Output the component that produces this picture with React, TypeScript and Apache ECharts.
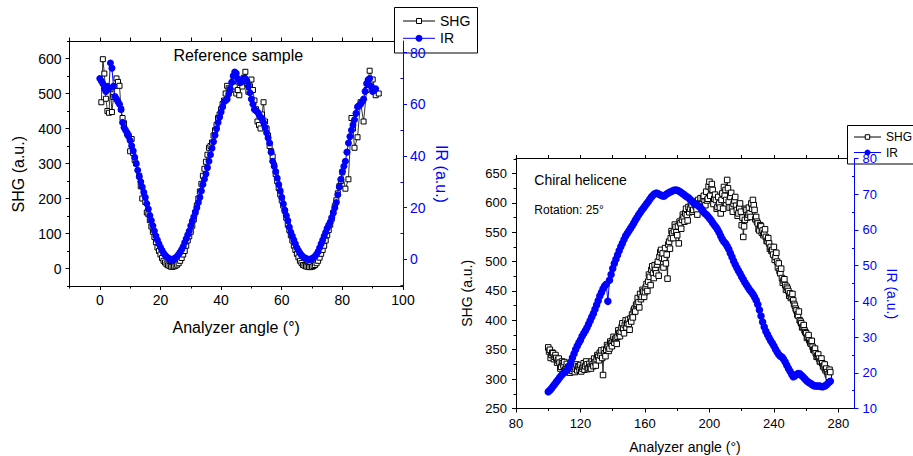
import { useEffect, useRef } from 'react';
import * as echarts from 'echarts';

const BLUE = '#0000ff';
const FONT = '"Liberation Sans", Arial, sans-serif';

// ---- Left chart: Reference sample ----
const leftShgAngles = [0.5, 1, 1.5, 2, 2.5, 3, 3.5, 4, 4.5, 5, 5.5, 6, 6.5, 7, 7.5, 8, 9, 9.5, 10, 10.5, 11, 11.5, 12, 13, 13.5, 14, 15, 15.5, 16, 17, 18, 19, 20, 21, 22, 23, 24, 25, 26, 27, 28, 29, 30, 31, 32, 33, 34, 35, 36, 37, 38, 39, 40, 41, 42, 43, 44, 45, 46, 47, 48, 49, 50, 51, 52, 53, 54, 55, 56, 57, 58, 59, 60, 61, 62, 63, 64, 65, 66, 67, 68, 69, 70, 71, 72, 73, 74, 75, 76, 77, 78, 79, 80, 81, 82, 83, 83.5, 84, 85, 86, 87, 88, 89, 90, 91, 92];
const leftShgValues = [475, 598, 557, 485, 450, 445, 512, 447, 490, 522, 543, 533, 522, 455, 430, 415, 385, 380, 335, 370, 330, 310, 300, 265, 235, 200, 190, 160, 155, 120, 90, 60, 40, 22, 12, 7, 5, 8, 15, 30, 50, 80, 105, 140, 180, 220, 265, 305, 345, 360, 395, 430, 455, 480, 522, 510, 535, 500, 495, 520, 562, 505, 540, 480, 420, 400, 475, 400, 350, 320, 270, 230, 195, 165, 125, 95, 65, 42, 22, 10, 6, 4, 5, 10, 22, 42, 65, 95, 125, 160, 195, 235, 275, 228, 255, 430, 400, 345, 375, 475, 420, 510, 565, 540, 495, 500];
const leftShgHalfAngles = [16.5, 17.5, 18.5, 19.5, 20.5, 21.5, 22.5, 23.5, 24.5, 25.5, 26.5, 27.5, 28.5, 29.5, 30.5, 31.5, 32.5, 33.5, 34.5, 35.5, 36.5, 37.5, 38.5, 39.5, 40.5, 41.5, 42.5, 43.5, 44.5, 45.5, 46.5, 47.5, 48.5, 49.5, 50.5, 51.5, 52.5, 53.5, 54.5, 55.5, 56.5, 57.5, 58.5, 59.5, 60.5, 61.5, 62.5, 63.5, 64.5, 65.5, 66.5, 67.5, 68.5, 69.5, 70.5, 71.5, 72.5, 73.5, 74.5, 75.5, 76.5, 77.5, 78.5, 79.5];
const leftShgHalfValues = [138, 105, 75, 50, 30, 17, 9, 5, 6, 11, 22, 40, 65, 92, 122, 160, 200, 242, 285, 325, 350, 380, 410, 440, 470, 500, 515, 525, 520, 510, 530, 545, 530, 520, 510, 455, 410, 440, 420, 380, 335, 295, 250, 212, 180, 145, 110, 80, 53, 32, 16, 8, 5, 4, 7, 15, 31, 53, 80, 110, 142, 178, 215, 250];
const leftIrAngles = [0, 0.5, 1, 1.5, 2, 2.5, 3, 3.5, 4, 4.5, 5, 5.5, 6, 6.5, 7, 7.5, 8, 9, 10, 11, 12, 13, 14, 15, 16, 17, 18, 19, 20, 21, 22, 23, 24, 25, 26, 27, 28, 29, 30, 31, 32, 33, 34, 35, 36, 37, 38, 39, 40, 41, 42, 43, 44, 44.5, 45, 46, 47, 48, 49, 50, 51, 52, 53, 54, 55, 56, 57, 58, 59, 60, 61, 62, 63, 64, 65, 66, 67, 68, 69, 70, 71, 72, 73, 74, 75, 76, 77, 78, 79, 80, 81, 82, 83, 84, 85, 86, 87, 88, 89, 90, 91];
const leftIrValues = [70, 69, 68, 66, 65, 67, 66, 76, 74, 67, 63, 62, 61, 60, 58, 53, 51, 49, 46, 42, 37, 32, 28, 24, 19.5, 15, 11, 7.5, 4.7, 2.5, 1, 0.2, 0, 0.6, 2, 3.8, 6.5, 9.5, 13, 16.5, 20, 24, 29, 33, 38, 43, 48, 53, 57, 61, 62, 66, 71, 72.5, 72, 69, 69.5, 70, 67, 62, 58, 57, 55, 53, 49, 45, 38, 34, 29, 24, 19, 15, 10.5, 7.5, 4.5, 2.5, 1, 0.3, 0, 0.3, 1.2, 3, 6, 9, 12, 14.5, 18, 22, 28, 34, 38, 45, 50, 54, 59, 60, 62, 68, 70, 65, 66];
const leftIrHalfAngles = [8.5, 9.5, 10.5, 11.5, 12.5, 13.5, 14.5, 15.5, 16.5, 17.5, 18.5, 19.5, 20.5, 21.5, 22.5, 23.5, 24.5, 25.5, 26.5, 27.5, 28.5, 29.5, 30.5, 31.5, 32.5, 33.5, 34.5, 35.5, 36.5, 37.5, 38.5, 39.5, 40.5, 41.5, 42.5, 43.5, 45.5, 46.5, 47.5, 48.5, 49.5, 50.5, 51.5, 52.5, 53.5, 54.5, 55.5, 56.5, 57.5, 58.5, 59.5, 60.5, 61.5, 62.5, 63.5, 64.5, 65.5, 66.5, 67.5, 68.5, 69.5, 70.5, 71.5, 72.5, 73.5, 74.5, 75.5, 76.5, 77.5, 78.5, 79.5, 80.5, 81.5, 82.5, 83.5, 84.5, 85.5, 86.5, 87.5, 88.5, 89.5, 90.5];
const leftIrHalfValues = [50, 47.5, 44, 39.5, 34.5, 30, 26, 21.5, 17, 13, 9, 6, 3.5, 1.7, 0.5, 0, 0.2, 1.2, 2.8, 5, 8, 11, 14.8, 18.3, 22, 26.5, 31, 35.5, 40.5, 45.5, 50.5, 55, 59, 61.5, 64, 68.5, 70, 68.5, 70, 69, 64.5, 60, 57.5, 56, 54.5, 51, 47, 41.5, 36, 31.5, 26.5, 21.5, 17, 12.5, 9, 6, 3.4, 1.7, 0.6, 0.1, 0, 0.7, 2, 4.5, 7.5, 10.5, 13.3, 16.2, 20, 25, 31, 36, 41.5, 47.5, 52, 56.5, 59.5, 61, 65, 69.5, 67, 65.5];

// ---- Right chart: Chiral helicene ----
const rightAngles = [
  100, 101, 102, 103, 104, 105, 106, 107, 108, 109,
  110, 111, 112, 113, 114, 115, 116, 117, 118, 119,
  120, 121, 122, 123, 124, 125, 126, 127, 128, 129,
  130, 131, 132, 133, 134, 135, 136, 137, 138, 139,
  140, 141, 142, 143, 144, 145, 146, 147, 148, 149,
  150, 151, 152, 153, 154, 155, 156, 157, 158, 159,
  160, 161, 162, 163, 164, 165, 166, 167, 168, 169,
  170, 171, 172, 173, 174, 175, 176, 177, 178, 179,
  180, 181, 182, 183, 184, 185, 186, 187, 188, 189,
  190, 191, 192, 193, 194, 195, 196, 197, 198, 199,
  200, 201, 202, 203, 204, 205, 206, 207, 208, 209,
  210, 211, 212, 213, 214, 215, 216, 217, 218, 219,
  220, 221, 222, 223, 224, 225, 226, 227, 228, 229,
  230, 231, 232, 233, 234, 235, 236, 237, 238, 239,
  240, 241, 242, 243, 244, 245, 246, 247, 248, 249,
  250, 251, 252, 253, 254, 255, 256, 257, 258, 259,
  260, 261, 262, 263, 264, 265, 266, 267, 268, 269,
  270, 271, 272, 273, 274, 275,
];
const rightShgValues = [
  354, 350, 341, 344, 338, 336, 332, 328, 321, 327,
  329, 318, 312, 320, 315, 314, 321, 318, 315, 321,
  324, 318, 327, 322, 325, 319, 321, 330, 322, 329,
  334, 338, 345, 349, 307, 344, 350, 355, 352, 361,
  366, 362, 370, 372, 378, 381, 395, 378, 400, 395,
  394, 403, 410, 417, 415, 428, 431, 445, 440, 449,
  448, 462, 466, 474, 486, 480, 494, 480, 500, 508,
  520, 514, 505, 497, 471, 534, 540, 548, 552, 559,
  545, 531, 565, 571, 576, 582, 579, 593, 590, 596,
  588, 598, 588, 605, 600, 598, 607, 602, 619, 607,
  636, 624, 622, 607, 605, 593, 599, 582, 616, 627,
  622, 639, 602, 610, 593, 598, 610, 588, 582, 599,
  562, 542, 571, 588, 580, 582, 599, 605, 588, 576,
  565, 553, 560, 553, 548, 542, 535, 531, 525, 520,
  525, 508, 500, 497, 480, 472, 468, 460, 457, 450,
  446, 440, 434, 425, 417, 408, 400, 395, 389, 383,
  378, 372, 366, 360, 355, 349, 344, 340, 335, 330,
  327, 320, 315, 312, 304, 312,
];
const rightHalfAngles = [
  100.5, 101.5, 102.5, 103.5, 104.5, 105.5, 106.5, 107.5, 108.5, 109.5,
  110.5, 111.5, 112.5, 113.5, 114.5, 115.5, 116.5, 117.5, 118.5, 119.5,
  120.5, 121.5, 122.5, 123.5, 124.5, 125.5, 126.5, 127.5, 128.5, 129.5,
  130.5, 131.5, 132.5, 133.5, 134.5, 135.5, 136.5, 137.5, 138.5, 139.5,
  140.5, 141.5, 142.5, 143.5, 144.5, 145.5, 146.5, 147.5, 148.5, 149.5,
  150.5, 151.5, 152.5, 153.5, 154.5, 155.5, 156.5, 157.5, 158.5, 159.5,
  160.5, 161.5, 162.5, 163.5, 164.5, 165.5, 166.5, 167.5, 168.5, 169.5,
  170.5, 171.5, 172.5, 173.5, 174.5, 175.5, 176.5, 177.5, 178.5, 179.5,
  180.5, 181.5, 182.5, 183.5, 184.5, 185.5, 186.5, 187.5, 188.5, 189.5,
  190.5, 191.5, 192.5, 193.5, 194.5, 195.5, 196.5, 197.5, 198.5, 199.5,
  200.5, 201.5, 202.5, 203.5, 204.5, 205.5, 206.5, 207.5, 208.5, 209.5,
  210.5, 211.5, 212.5, 213.5, 214.5, 215.5, 216.5, 217.5, 218.5, 219.5,
  220.5, 221.5, 222.5, 223.5, 224.5, 225.5, 226.5, 227.5, 228.5, 229.5,
  230.5, 231.5, 232.5, 233.5, 234.5, 235.5, 236.5, 237.5, 238.5, 239.5,
  240.5, 241.5, 242.5, 243.5, 244.5, 245.5, 246.5, 247.5, 248.5, 249.5,
  250.5, 251.5, 252.5, 253.5, 254.5, 255.5, 256.5, 257.5, 258.5, 259.5,
  260.5, 261.5, 262.5, 263.5, 264.5, 265.5, 266.5, 267.5, 268.5, 269.5,
  270.5, 271.5, 272.5, 273.5, 274.5,
];
const rightShgHalfValues = [
  347, 336, 345, 334, 341, 328, 335, 318, 330, 323,
  316, 326, 321, 311, 323, 318, 312, 325, 322, 316,
  313, 321, 316, 330, 317, 326, 318, 325, 335, 323,
  341, 332, 340, 336, 350, 339, 358, 348, 364, 356,
  372, 368, 360, 383, 373, 388, 386, 392, 388, 401,
  384, 398, 405, 420, 426, 438, 422, 436, 452, 440,
  456, 450, 478, 460, 492, 472, 486, 495, 476, 516,
  506, 490, 523, 512, 529, 522, 552, 540, 563, 550,
  560, 568, 556, 580, 568, 590, 570, 584, 600, 585,
  602, 594, 580, 596, 608, 590, 612, 596, 604, 628,
  612, 632, 598, 614, 590, 610, 592, 605, 590, 612,
  605, 625, 592, 617, 585, 604, 595, 578, 592, 585,
  575, 560, 590, 575, 592, 576, 590, 596, 572, 568,
  555, 562, 549, 545, 555, 535, 540, 522, 518, 512,
  503, 515, 490, 484, 488, 464, 470, 452, 454, 442,
  438, 445, 428, 420, 410, 415, 398, 388, 392, 380,
  370, 375, 362, 365, 350, 352, 338, 342, 330, 335,
  322, 325, 318, 308, 316,
];
const rightIrValues = [
  14.7, 15.1, 15.6, 16.2, 16.8, 17.4, 18, 18.6, 19.2, 19.7,
  20.1, 20.5, 21, 21.9, 23, 24.2, 25.3, 26.5, 27.5, 28.4,
  29.2, 30.2, 31, 31.8, 32.6, 33.6, 34.6, 35.6, 36.6, 37.8,
  39, 40.2, 41.5, 42.5, 43.5, 44.3, 44.8, 40, 45.9, 47.5,
  49.2, 50.6, 51.8, 53, 54.2, 55.3, 56.3, 57.3, 58.3, 59,
  59.7, 60.4, 61.1, 61.9, 62.7, 63.4, 64.2, 64.8, 65.5, 66.1,
  66.7, 67.3, 67.9, 68.6, 69.2, 69.7, 70.1, 70.3, 70.2, 69.9,
  69.7, 69.5, 69.5, 69.9, 70.2, 70.5, 70.7, 70.9, 71.1, 71.2,
  71.1, 70.9, 70.6, 70.3, 70, 69.6, 69.3, 69, 68.6, 68.1,
  67.6, 67.3, 67.1, 66.8, 66.4, 65.9, 65.3, 64.7, 64.3, 63.8,
  63.3, 62.7, 62, 61.4, 60.8, 60.1, 59.3, 58.3, 57.4, 56.7,
  56.2, 55.4, 54.6, 53.5, 52.4, 51.3, 50.3, 49.4, 48.6, 47.8,
  46.9, 46.1, 45.3, 44.6, 43.9, 43.2, 42.6, 42, 41.2, 40.3,
  39.1, 37.6, 35.9, 34.2, 32.8, 31.6, 30.7, 29.8, 29, 28.3,
  27.5, 26.6, 25.8, 25.1, 24.6, 24.4, 23.8, 23, 22.1, 21.2,
  20.4, 19.6, 18.9, 19.1, 19.5, 19.8, 19.7, 19.3, 18.9, 18.4,
  17.9, 17.5, 17.2, 16.9, 16.6, 16.4, 16.3, 16.3, 16.3, 16.2,
  16.1, 16.2, 16.4, 16.8, 17.3, 17.6,
];

// ---- Axis ticks / labels ----
const leftXLabels = [0, 20, 40, 60, 80, 100];
const leftXMinor = [-10, 10, 30, 50, 70, 90];
const leftXTop = [-10, 0, 10, 20, 30, 40, 50, 60, 70, 80, 90, 100];
const leftShgLabels = [0, 100, 200, 300, 400, 500, 600];
const leftShgMinor = [-50, 50, 150, 250, 350, 450, 550, 650];
const leftIrLabels = [0, 20, 40, 60, 80];
const leftIrMinor = [-10, 10, 30, 50, 70];
const rightXLabels = [80, 120, 160, 200, 240, 280];
const rightXMinor = [100, 140, 180, 220, 260];
const rightXTop = [80, 100, 120, 140, 160, 180, 200, 220, 240, 260, 280];
const rightShgLabels = [250, 300, 350, 400, 450, 500, 550, 600, 650];
const rightShgMinor = [275, 325, 375, 425, 475, 525, 575, 625, 675];
const rightIrLabels = [10, 20, 30, 40, 50, 60, 70, 80];
const rightIrMinor = [15, 25, 35, 45, 55, 65, 75];

const pairs = (xs: number[], ys: number[]) => xs.map((x, i) => [x, ys[i]]);
const merged = (a: number[][], b: number[][]) => a.concat(b).sort((p, q) => p[0] - q[0]);

function labelledAxis(grid: number, position: string, min: number, max: number, values: number[], color: string, fontSize: number, margin: number, z = 0) {
  return {
    type: 'value', gridIndex: grid, position, min, max, z,
    splitLine: { show: false },
    axisLine: { show: true, onZero: false, lineStyle: { color, width: 1 } },
    axisTick: { show: true, inside: false, length: 4, customValues: values, lineStyle: { color, width: 1 } },
    axisLabel: { show: true, customValues: values, color, fontSize, fontFamily: FONT, margin },
  };
}

function tickAxis(grid: number, position: string, min: number, max: number, values: number[], color: string, length: number, inside: boolean, showLine: boolean, z = 0) {
  return {
    type: 'value', gridIndex: grid, position, min, max, z,
    splitLine: { show: false },
    axisLine: { show: showLine, onZero: false, lineStyle: { color, width: 1 } },
    axisTick: { show: true, inside, length, customValues: values, lineStyle: { color, width: 1 } },
    axisLabel: { show: false },
  };
}

function text(t: string, x: number, y: number, size: number, color = '#000', rotation = 0, align = 'center') {
  return {
    type: 'text', x, y, rotation, z: 10, silent: true,
    style: {
      text: t, fill: color, fontSize: size, fontFamily: FONT,
      align, verticalAlign: 'middle', textAlign: align, textVerticalAlign: 'middle',
    },
  };
}

export default function App() {
  const ref = useRef<HTMLDivElement>(null);
  useEffect(() => {
    if (!ref.current) return;
    const chart = echarts.init(ref.current, undefined, { renderer: 'svg' });
    const legendBase = {
      orient: 'horizontal', padding: 0, itemGap: 0, selectedMode: false, z: 6,
      lineStyle: { width: 1 },
    };
    chart.setOption({
      animation: false,
      backgroundColor: '#fff',
      grid: [
        { left: 69.5, top: 41, width: 333.5, height: 245, containLabel: false, outerBoundsMode: 'none' },
        { left: 516, top: 158.5, width: 338.5, height: 250, containLabel: false, outerBoundsMode: 'none' },
      ],
      xAxis: [
        labelledAxis(0, 'bottom', -10, 100, leftXLabels, '#000', 14, 7),
        tickAxis(0, 'bottom', -10, 100, leftXMinor, '#000', 2.5, false, false),
        tickAxis(0, 'top', -10, 100, leftXTop, '#000', 3.5, false, true),
        labelledAxis(1, 'bottom', 80, 290, rightXLabels, '#000', 13, 8),
        tickAxis(1, 'bottom', 80, 290, rightXMinor, '#000', 2.5, false, false),
        tickAxis(1, 'top', 80, 290, rightXTop, '#000', 3.5, false, true),
      ],
      yAxis: [
        labelledAxis(0, 'left', -50, 650, leftShgLabels, '#000', 14, 8),
        tickAxis(0, 'left', -50, 650, leftShgMinor, '#000', 2.5, false, false),
        labelledAxis(0, 'right', -10.3, 84.5, leftIrLabels, BLUE, 14, 7, 5),
        tickAxis(0, 'right', -10.3, 84.5, leftIrMinor, BLUE, 2.5, true, false, 5),
        labelledAxis(1, 'left', 250, 675.5, rightShgLabels, '#000', 13, 9),
        tickAxis(1, 'left', 250, 675.5, rightShgMinor, '#000', 2.5, false, false),
        labelledAxis(1, 'right', 10, 80, rightIrLabels, BLUE, 13, 8, 5),
        tickAxis(1, 'right', 10, 80, rightIrMinor, BLUE, 2.5, true, false, 5),
      ],
      legend: [
        { ...legendBase, data: ['SHG'], left: 402.5, top: 14, itemWidth: 32, itemHeight: 6.25, itemStyle: { borderWidth: 1 }, textStyle: { fontSize: 14, color: '#000', fontFamily: FONT } },
        { ...legendBase, data: ['IR'], left: 402.5, top: 31.3, itemWidth: 32, itemHeight: 8.75, itemStyle: { borderWidth: 0 }, textStyle: { fontSize: 14, color: '#000', fontFamily: FONT } },
        { ...legendBase, data: ['SHG'], left: 853.5, top: 131, itemWidth: 27, itemHeight: 5.6, itemStyle: { borderWidth: 1 }, textStyle: { fontSize: 12, color: '#000', fontFamily: FONT } },
        { ...legendBase, data: ['IR'], left: 853.5, top: 146.5, itemWidth: 27, itemHeight: 7.5, itemStyle: { borderWidth: 0 }, textStyle: { fontSize: 12, color: '#000', fontFamily: FONT } },
      ],
      graphic: {
        elements: [
          { type: 'rect', z: 3, silent: true, shape: { x: 394.5, y: 7.5, width: 83, height: 45.5 }, style: { fill: '#fff', stroke: '#000', lineWidth: 1 } },
          { type: 'rect', z: 3, silent: true, shape: { x: 847.5, y: 125.5, width: 80, height: 38.5 }, style: { fill: '#fff', stroke: '#000', lineWidth: 1 } },
          text('Reference sample', 238.3, 55, 16),
          text('SHG (a.u.)', 18.3, 174.2, 16, '#000', Math.PI / 2),
          text('IR (a.u.)', 441.7, 174, 16, BLUE, -Math.PI / 2),
          text('Analyzer angle (°)', 236.2, 327, 16),
          text('Chiral helicene', 534.3, 180, 14, '#000', 0, 'left'),
          text('Rotation: 25°', 534.3, 210, 12, '#000', 0, 'left'),
          text('SHG (a.u.)', 466.7, 293.3, 14, '#000', Math.PI / 2),
          text('IR (a.u.)', 891.7, 293.8, 14, BLUE, -Math.PI / 2),
          text('Analyzer angle (°)', 685, 447.3, 14),
        ],
      },
      series: [
        {
          name: 'SHG', type: 'line', xAxisIndex: 0, yAxisIndex: 0,
          data: merged(pairs(leftShgAngles, leftShgValues), pairs(leftShgHalfAngles, leftShgHalfValues)),
          symbol: 'rect', symbolSize: 5, showAllSymbol: true, z: 2, emphasis: { disabled: true },
          itemStyle: { color: '#fff', borderColor: '#000', borderWidth: 1 }, lineStyle: { color: '#000', width: 0.8 },
        },
        {
          name: 'IR', type: 'line', xAxisIndex: 0, yAxisIndex: 2,
          data: merged(pairs(leftIrAngles, leftIrValues), pairs(leftIrHalfAngles, leftIrHalfValues)),
          symbol: 'circle', symbolSize: 7, showAllSymbol: true, z: 2, emphasis: { disabled: true },
          itemStyle: { color: BLUE, borderWidth: 0 }, lineStyle: { color: BLUE, width: 1 },
        },
        {
          name: 'SHG', type: 'line', xAxisIndex: 3, yAxisIndex: 4,
          data: merged(pairs(rightAngles, rightShgValues), pairs(rightHalfAngles, rightShgHalfValues)),
          symbol: 'rect', symbolSize: 5.5, showAllSymbol: true, z: 2, emphasis: { disabled: true },
          itemStyle: { color: '#fff', borderColor: '#000', borderWidth: 1 }, lineStyle: { color: '#000', width: 0.8 },
        },
        {
          name: 'IR', type: 'line', xAxisIndex: 3, yAxisIndex: 6, data: pairs(rightAngles, rightIrValues),
          symbol: 'circle', symbolSize: 7.5, showAllSymbol: true, z: 2, emphasis: { disabled: true },
          itemStyle: { color: BLUE, borderWidth: 0 }, lineStyle: { color: BLUE, width: 1 },
        },
      ],
    });
    return () => chart.dispose();
  }, []);
  return <div ref={ref} style={{ position: 'absolute', left: 0, top: 0, width: '913px', height: '456px' }} />;
}
